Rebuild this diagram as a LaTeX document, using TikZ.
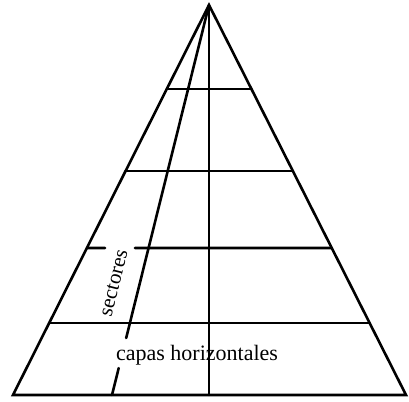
\documentclass[tikz,border=0pt]{standalone}
\usepackage{fontspec}
\setmainfont{Liberation Serif}
\usetikzlibrary{calc}
\begin{document}
\begin{tikzpicture}[x=1pt,y=-1pt,
  edge/.style={line width=2.6pt,line cap=round},
  lbl/.style={font=\fontsize{22}{26}\selectfont,inner sep=0pt}]
\useasboundingbox (0,0) rectangle (409,401);
\coordinate (A) at (209,5);
\coordinate (BL) at (13,395);
\coordinate (BR) at (406,395);
\coordinate (BM) at (209,395);
\coordinate (S) at (112,395);
% outline
\draw[edge,line join=miter] (BL) -- (A) -- (BR) -- cycle;
% central vertical
\draw[edge] (A) -- (BM);
% horizontal layers
\foreach \yy/\nm in {89/a,171/b,248/c,323/d}{
  \pgfmathsetmacro{\tt}{(\yy-5)/390}
  \coordinate (L\nm) at ($(A)!\tt!(BL)$);
  \coordinate (R\nm) at ($(A)!\tt!(BR)$);
}
\draw[edge] (La) -- (Ra);
\draw[edge] (Lb) -- (Rb);
\draw[edge] (Ld) -- (Rd);
\coordinate (G1) at (105,248);
\coordinate (G2) at (135,248);
\draw[edge] (Lc) -- (G1);
\draw[edge] (G2) -- (Rc);
% sector line with gap
\coordinate (S1) at ($(A)!0.854!(S)$);
\coordinate (S2) at ($(A)!0.931!(S)$);
\draw[edge] (A) -- (S1);
\draw[edge] (S2) -- (S);
% labels
\node[lbl] (cap) at (197,355) {capas horizontales};
\node[lbl,font=\fontsize{21}{25}\selectfont,rotate=76] (sec) at (114,283) {sectores};
\end{tikzpicture}
\end{document}
